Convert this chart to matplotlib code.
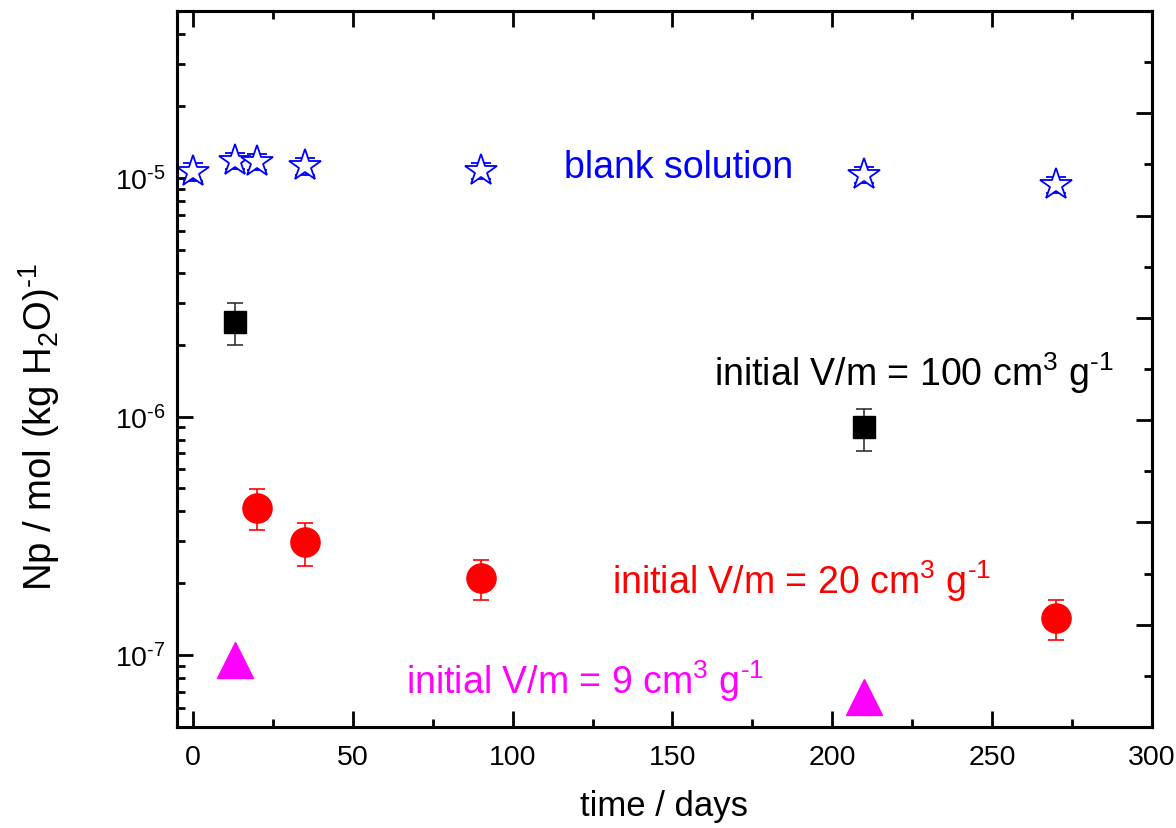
import matplotlib
matplotlib.use("Agg")
import matplotlib.pyplot as plt
from matplotlib.ticker import MultipleLocator, LogLocator, NullFormatter, FixedLocator

plt.rcParams['font.family'] = ['Liberation Sans', 'DejaVu Sans']
plt.rcParams['mathtext.fontset'] = 'custom'
plt.rcParams['mathtext.rm'] = 'Liberation Sans'
plt.rcParams['mathtext.it'] = 'Liberation Sans:italic'
plt.rcParams['mathtext.bf'] = 'Liberation Sans:bold'

# data
blank_t = [0, 13, 20, 35, 90, 210, 270]
blank_c = [1.06e-5, 1.18e-5, 1.17e-5, 1.12e-5, 1.07e-5, 1.03e-5, 0.935e-5]
blank_err = [0.09e-5, 0.09e-5, 0.09e-5, 0.09e-5, 0.08e-5, 0.08e-5, 0.07e-5]

vm100_t = [13, 210]
vm100_c = [2.5e-6, 0.9e-6]
vm100_err = [0.5e-6, 0.18e-6]

vm20_t = [20, 35, 90, 270]
vm20_c = [4.15e-7, 2.97e-7, 2.10e-7, 1.43e-7]
vm20_err = [0.82e-7, 0.6e-7, 0.4e-7, 0.27e-7]

vm9_t = [13, 210]
vm9_c = [9.5e-8, 6.7e-8]

x_ticks = [0, 50, 100, 150, 200, 250, 300]
y_ticks = [1e-7, 1e-6, 1e-5]
y_ticklabels = [r'$\mathregular{10^{\text{-}7}}$', r'$\mathregular{10^{\text{-}6}}$',
                r'$\mathregular{10^{\text{-}5}}$']

fig = plt.figure(figsize=(11.76, 8.29), dpi=100)
ax = fig.add_axes([0.1505, 0.1218, 0.8291, 0.8637])

ax.errorbar(blank_t, blank_c, yerr=blank_err, fmt='*', ms=24, mfc='white', mec='#0000ff',
            mew=1.3, ecolor='#0000ff', elinewidth=1.0, capsize=7, capthick=1.0, zorder=3)
ax.errorbar(vm100_t, vm100_c, yerr=vm100_err, fmt='s', ms=16, mfc='black', mec='black',
            ecolor='#333333', elinewidth=1.2, capsize=6, capthick=1.2, zorder=3)
ax.errorbar(vm20_t, vm20_c, yerr=vm20_err, fmt='o', ms=21, mfc='#ff0000', mec='#ff0000',
            ecolor='#ff0000', elinewidth=1.2, capsize=6, capthick=1.2, zorder=3)
ax.plot(vm9_t, vm9_c, '^', ms=26, mfc='#ff00ff', mec='#ff00ff', ls='none', zorder=3)

ax.set_yscale('log')
ax.set_xlim(-5, 300)
ax.set_ylim(5e-8, 5e-5)

ax.xaxis.set_major_locator(FixedLocator(x_ticks))
ax.xaxis.set_minor_locator(MultipleLocator(25))
ax.yaxis.set_minor_locator(LogLocator(base=10, subs=range(2, 10), numticks=20))
ax.yaxis.set_minor_formatter(NullFormatter())
ax.set_yticks(y_ticks)
ax.set_yticklabels(y_ticklabels)

ax.tick_params(which='both', direction='in', top=True, right=False, width=2.0)
ax.tick_params(which='major', length=11.5, labelsize=20.5, pad=8)
ax.tick_params(axis='x', which='major', pad=12)
ax.tick_params(which='minor', length=6)
for s in ax.spines.values():
    s.set_linewidth(2.2)

ax2 = ax.twinx()
ax2.set_ylim(0, 14)
ax2.yaxis.set_major_locator(MultipleLocator(2))
ax2.yaxis.set_minor_locator(MultipleLocator(1))
ax2.tick_params(which='both', direction='in', right=True, labelright=False, width=2.0)
ax2.tick_params(which='major', length=11.5)
ax2.tick_params(which='minor', length=6)
for s in ax2.spines.values():
    s.set_linewidth(2.2)

ax.set_xlabel('time / days', fontsize=25, labelpad=14)
ax.set_ylabel(r'Np / mol (kg H$\mathregular{_2}$O)$\mathregular{^{\text{-}1}}$', fontsize=27.5)
ax.yaxis.set_label_coords(-0.118, 0.42)

sup3 = r'$\mathregular{^3}$'
supm1 = r'$\mathregular{^{\text{-}1}}$'
ax.text(152, 1.11e-5, 'blank solution', color='#0000ff', fontsize=27, ha='center', va='center')
ax.text(163, 1.54e-6, 'initial V/m = 100 cm' + sup3 + ' g' + supm1,
        color='black', fontsize=27, ha='left', va='center')
ax.text(131, 2.07e-7, 'initial V/m = 20 cm' + sup3 + ' g' + supm1,
        color='#ff0000', fontsize=27, ha='left', va='center')
ax.text(66.5, 7.85e-8, 'initial V/m = 9 cm' + sup3 + ' g' + supm1,
        color='#ff00ff', fontsize=27, ha='left', va='center')

fig.savefig('out.png', dpi=100)
